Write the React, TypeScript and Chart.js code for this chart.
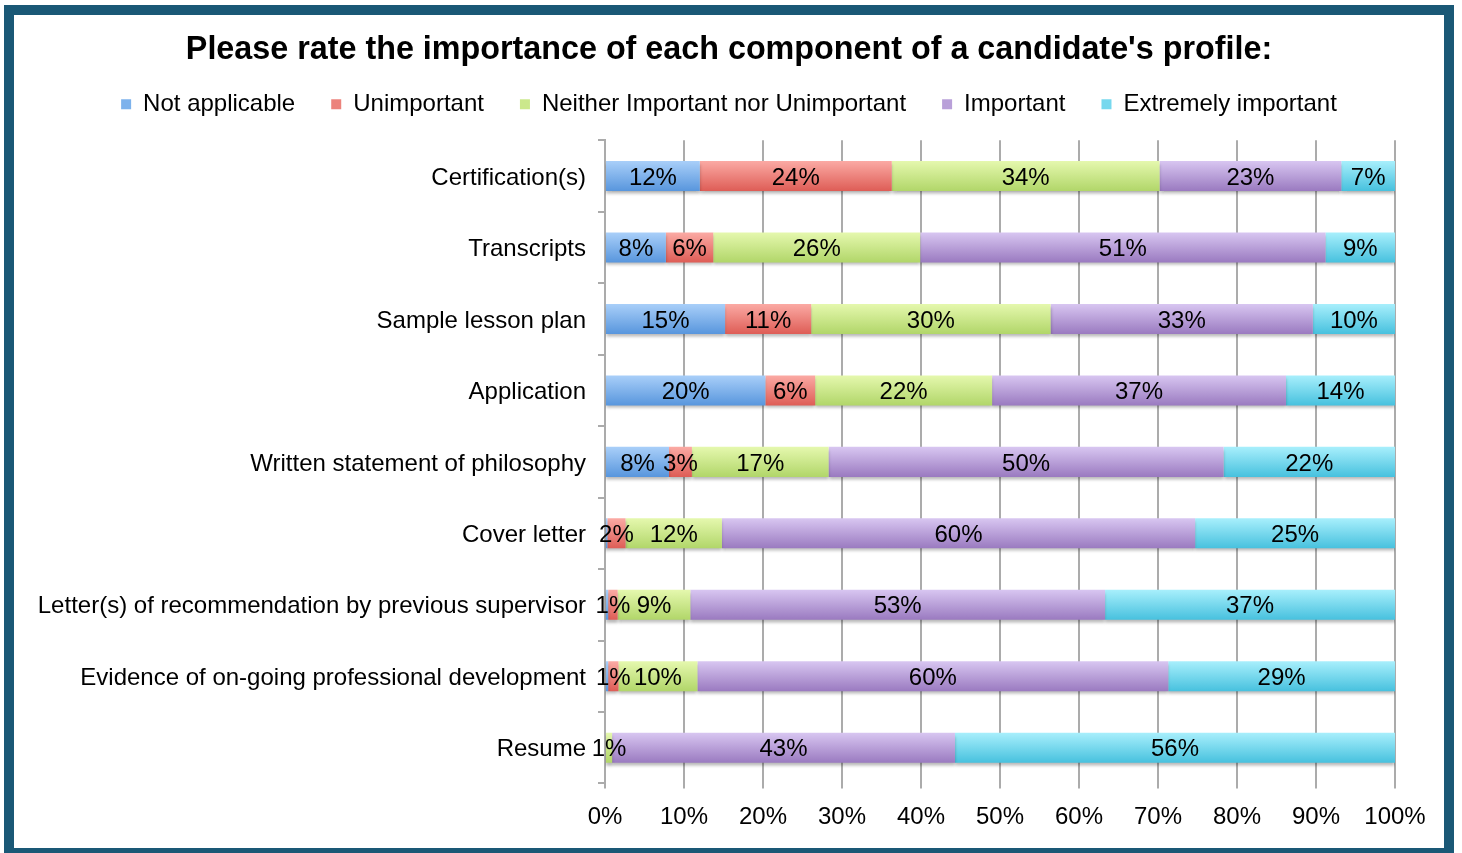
import React, { useEffect, useRef } from 'react';
import { Chart, registerables } from 'chart.js';

Chart.register(...registerables);

const categories = [
  'Certification(s)',
  'Transcripts',
  'Sample lesson plan',
  'Application',
  'Written statement of philosophy',
  'Cover letter',
  'Letter(s) of recommendation by previous supervisor',
  'Evidence of on-going professional development',
  'Resume',
];

const seriesNames = [
  'Not applicable',
  'Unimportant',
  'Neither Important nor Unimportant',
  'Important',
  'Extremely important',
];

const notApplicable = [12, 7.7, 15.2, 20.3, 8.1, 0.3, 0.4, 0.4, 0];
const unimportant = [24.3, 6, 10.9, 6.3, 2.9, 2.3, 1.2, 1.3, 0];
const neitherNor = [33.9, 26.2, 30.3, 22.4, 17.3, 12.2, 9.2, 10, 0.9];
const important = [23, 51.3, 33.2, 37.2, 50, 59.9, 52.5, 59.6, 43.4];
const extremelyImportant = [6.8, 8.8, 10.4, 13.8, 21.7, 25.3, 36.7, 28.7, 55.7];

const xTickValues = [0, 10, 20, 30, 40, 50, 60, 70, 80, 90, 100];

const gradTop = ['#a9cff9', '#fbaaa4', '#e5f8ae', '#d8c6f1', '#a8effc'];
const gradBottom = ['#5896dd', '#de5d56', '#b1d669', '#9a7ac0', '#47c1de'];
const legendColors = ['#7db2ec', '#ec837c', '#cbe88c', '#b9a0d9', '#77d8ee'];

const FONT = '"Liberation Sans", Arial, Helvetica, sans-serif';
const BAR_HALF = 15;

const barLabelPlugin = {
  id: 'barLabelPlugin',
  beforeDatasetsDraw(chart: any) {
    const ctx = chart.ctx;
    ctx.save();
    ctx.shadowColor = 'rgba(0,0,0,0.28)';
    ctx.shadowBlur = 3;
    ctx.shadowOffsetY = 3;
  },
  afterDatasetsDraw(chart: any) {
    const ctx = chart.ctx;
    ctx.restore();
    ctx.save();
    ctx.font = `24px ${FONT}`;
    ctx.fillStyle = '#000';
    ctx.textAlign = 'center';
    ctx.textBaseline = 'middle';
    chart.data.datasets.forEach((ds: any, i: number) => {
      const meta = chart.getDatasetMeta(i);
      meta.data.forEach((bar: any, j: number) => {
        const v = ds.data[j] as number;
        const r = Math.round(v);
        if (r < 1) return;
        const p = bar.getProps(['x', 'y', 'base'], true);
        ctx.fillText(r + '%', (p.x + p.base) / 2, p.y + 2);
      });
    });
    ctx.restore();
  },
};

function makeBg(i: number) {
  return (c: any) => {
    const chart = c.chart;
    const ys = chart.scales && chart.scales.y;
    if (!ys || c.dataIndex === undefined || !isFinite(ys.getPixelForValue(c.dataIndex))) return legendColors[i];
    const py = ys.getPixelForValue(c.dataIndex);
    const g = chart.ctx.createLinearGradient(0, py - BAR_HALF, 0, py + BAR_HALF);
    g.addColorStop(0, gradTop[i]);
    g.addColorStop(1, gradBottom[i]);
    return g;
  };
}

export default function App() {
  const ref = useRef<HTMLCanvasElement>(null);

  useEffect(() => {
    document.body.style.margin = '0';
    document.body.style.overflow = 'hidden';
    const series = [notApplicable, unimportant, neitherNor, important, extremelyImportant];
    const chart = new Chart(ref.current as HTMLCanvasElement, {
      type: 'bar',
      data: {
        labels: categories,
        datasets: series.map((d, i) => ({
          label: seriesNames[i],
          data: d,
          backgroundColor: makeBg(i),
          borderWidth: 0,
          categoryPercentage: 1,
          barPercentage: 0.42,
        })),
      },
      options: {
        indexAxis: 'y',
        responsive: false,
        animation: false,
        layout: { padding: { left: 0, right: 0, top: 0, bottom: 0 } },
        scales: {
          x: {
            stacked: true,
            min: 0,
            max: 100,
            afterBuildTicks: (scale: any) => {
              scale.ticks = xTickValues.map((v) => ({ value: v }));
            },
            afterFit: (scale: any) => {
              scale.height = 64.5;
            },
            ticks: {
              callback: (v: any) => v + '%',
              color: '#000',
              font: { family: FONT, size: 24 },
              padding: 14,
              maxRotation: 0,
            },
            grid: { color: '#ababab', lineWidth: 2, tickLength: 5, drawTicks: true },
            border: { display: false },
          },
          y: {
            stacked: true,
            afterFit: (scale: any) => {
              scale.width = 591;
            },
            ticks: {
              color: '#000',
              font: { family: FONT, size: 24 },
              padding: 12,
              labelOffset: 2,
            },
            grid: { drawOnChartArea: false, drawTicks: true, tickLength: 7, color: '#ababab', lineWidth: 2, offset: true },
            border: { display: true, color: '#ababab', width: 2 },
          },
          yRightSpace: {
            type: 'category',
            position: 'right',
            display: true,
            afterFit: (scale: any) => {
              scale.width = 49;
            },
            ticks: { display: false },
            grid: { display: false, drawTicks: false },
            border: { display: false },
          },
        },
        plugins: {
          title: {
            display: true,
            text: "Please rate the importance of each component of a candidate's profile:",
            color: '#000',
            font: { family: FONT, size: 32.3, weight: 'bold' },
            padding: { top: 16, bottom: -13.5 },
          },
          subtitle: {
            display: true,
            text: '',
            weight: 500,
            font: { size: 1 },
            padding: { top: 12.8, bottom: 0 },
          } as any,
          legend: {
            display: true,
            position: 'top',
            labels: {
              color: '#000',
              font: { family: FONT, size: 24 },
              boxWidth: 10,
              boxHeight: 10,
              padding: 36,
              generateLabels: (ch: any) =>
                ch.data.datasets.map((ds: any, i: number) => ({
                  text: ds.label,
                  fillStyle: legendColors[i],
                  strokeStyle: legendColors[i],
                  lineWidth: 0,
                  hidden: false,
                  datasetIndex: i,
                })),
            },
          },
          tooltip: { enabled: false },
        },
      },
      plugins: [barLabelPlugin],
    } as any);
    return () => chart.destroy();
  }, []);

  return (
    <div style={{ position: 'relative', width: 1462, height: 853, overflow: 'hidden', background: '#fff' }}>
      <div
        style={{
          position: 'absolute',
          left: 4,
          top: 5,
          width: 1430,
          height: 833,
          border: '10px solid #1a5876',
          background: '#fff',
        }}
      >
        <canvas ref={ref} width={1430} height={833} style={{ display: 'block', width: 1430, height: 833 }} />
      </div>
    </div>
  );
}
